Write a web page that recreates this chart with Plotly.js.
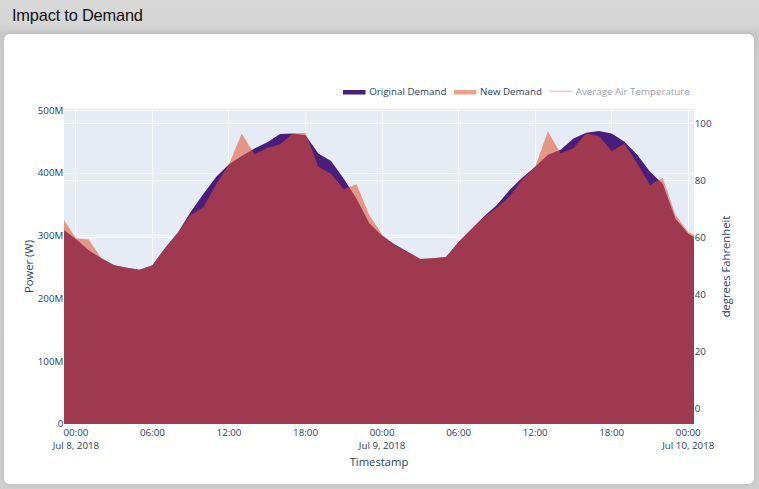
<!DOCTYPE html>
<html>
<head>
<meta charset="utf-8">
<script src="https://cdn.plot.ly/plotly-3.0.1.min.js"></script>
<style>
  html, body { margin: 0; padding: 0; }
  body { width: 759px; height: 489px; overflow: hidden; position: relative;
         background: linear-gradient(to bottom, #d8d8d8 0px, #d6d6d6 24px, #cacaca 34px, #d0d0d0 60px, #cfcfcf 489px); }
  #title { position: absolute; left: 12px; top: 6px; font-family: "Liberation Sans", Arial, Helvetica, sans-serif;
           font-size: 16.4px; color: #111; letter-spacing: -0.2px; }
  #card { position: absolute; left: 4px; top: 34px; width: 750px; height: 450px; background: #fff;
          border-radius: 6px; overflow: hidden; box-shadow: 0 0 5px rgba(0,0,0,0.12); }
  #chart { width: 1000px; height: 600px; transform: scale(0.75); transform-origin: 0 0; }
</style>
</head>
<body>
<div id="title">Impact to Demand</div>
<div id="card"><div id="chart"></div></div>
<script>
// Hourly timestamps, Jul 7 23:00 -> Jul 10 01:00
const timestamps = [
  '2018-07-07 23:00',
  '2018-07-08 00:00','2018-07-08 01:00','2018-07-08 02:00','2018-07-08 03:00','2018-07-08 04:00','2018-07-08 05:00',
  '2018-07-08 06:00','2018-07-08 07:00','2018-07-08 08:00','2018-07-08 09:00','2018-07-08 10:00','2018-07-08 11:00',
  '2018-07-08 12:00','2018-07-08 13:00','2018-07-08 14:00','2018-07-08 15:00','2018-07-08 16:00','2018-07-08 17:00',
  '2018-07-08 18:00','2018-07-08 19:00','2018-07-08 20:00','2018-07-08 21:00','2018-07-08 22:00','2018-07-08 23:00',
  '2018-07-09 00:00','2018-07-09 01:00','2018-07-09 02:00','2018-07-09 03:00','2018-07-09 04:00','2018-07-09 05:00',
  '2018-07-09 06:00','2018-07-09 07:00','2018-07-09 08:00','2018-07-09 09:00','2018-07-09 10:00','2018-07-09 11:00',
  '2018-07-09 12:00','2018-07-09 13:00','2018-07-09 14:00','2018-07-09 15:00','2018-07-09 16:00','2018-07-09 17:00',
  '2018-07-09 18:00','2018-07-09 19:00','2018-07-09 20:00','2018-07-09 21:00','2018-07-09 22:00','2018-07-09 23:00',
  '2018-07-10 00:00','2018-07-10 01:00'
];
// Power in MW (converted to W below)
const originalDemandMW = [
  310,
  295, 277, 264, 253, 249, 246,
  253, 281, 305, 338, 367, 394,
  414, 427, 439, 449, 462, 463,
  460, 431, 419, 391, 359, 320,
  300, 286, 274, 263, 264, 266,
  290, 311, 331, 349, 373, 393,
  410, 429, 437, 455, 464, 467,
  463, 450, 429, 402, 383, 327,
  303, 292
];
const newDemandMW = [
  327,
  296, 294, 264, 253, 249, 246,
  253, 281, 305, 333, 346, 382,
  414, 463, 430, 440, 446, 463,
  464, 410, 399, 374, 382, 333,
  302, 285, 274, 263, 264, 266,
  290, 311, 330, 345, 363, 390,
  410, 466, 431, 440, 463, 459,
  435, 447, 415, 381, 392, 333,
  306, 295
];
// Temperature series (hidden / legend only)
const tempTimestamps = [
  '2018-07-08 00:00','2018-07-08 03:00','2018-07-08 06:00','2018-07-08 09:00','2018-07-08 12:00','2018-07-08 15:00',
  '2018-07-08 18:00','2018-07-08 21:00','2018-07-09 00:00','2018-07-09 03:00','2018-07-09 06:00','2018-07-09 09:00',
  '2018-07-09 12:00','2018-07-09 15:00','2018-07-09 18:00','2018-07-09 21:00','2018-07-10 00:00'
];
const avgAirTempF = [66, 63, 61, 70, 82, 88, 85, 75, 68, 64, 62, 71, 83, 90, 87, 76, 69];

const toW = a => a.map(v => v * 1e6);

const traces = [
  { x: timestamps, y: toW(originalDemandMW), name: 'Original Demand', type: 'scatter', mode: 'lines',
    fill: 'tozeroy', fillcolor: 'rgb(74,29,122)', line: { width: 0, color: 'rgb(74,29,122)' } },
  { x: timestamps, y: toW(newDemandMW), name: 'New Demand', type: 'scatter', mode: 'lines',
    fill: 'tozeroy', fillcolor: 'rgba(227,80,44,0.55)', line: { width: 0, color: 'rgb(227,80,44)' } },
  { x: tempTimestamps, y: avgAirTempF, name: 'Average Air Temperature', type: 'scatter', mode: 'lines',
    yaxis: 'y2', visible: 'legendonly', line: { color: 'rgb(245,130,150)', width: 2 } }
];

const layout = {
  width: 1000, height: 600,
  margin: { l: 80, r: 80, t: 100, b: 80 },
  paper_bgcolor: '#fff',
  plot_bgcolor: '#E5ECF6',
  font: { family: '"Open Sans", verdana, arial, sans-serif', size: 13, color: '#2a3f5f' },
  showlegend: true,
  legend: { orientation: 'h', x: 1, xanchor: 'right', y: 1.02, yanchor: 'bottom', bgcolor: 'rgba(0,0,0,0)',
            font: { size: 13 } },
  xaxis: { type: 'date', title: { text: 'Timestamp', font: { size: 15 } }, range: ['2018-07-07 23:04', '2018-07-10 00:27'],
           tick0: '2018-07-08 00:00', dtick: 6 * 3600000, gridcolor: '#fff', zeroline: false, linecolor: '#fff' },
  yaxis: { title: { text: 'Power (W)', font: { size: 15 } }, range: [0, 502e6], dtick: 100e6, gridcolor: '#fff', zeroline: false },
  yaxis2: { title: { text: 'degrees Fahrenheit', font: { size: 15 } }, overlaying: 'y', side: 'right', range: [-5.26, 105],
            dtick: 20, gridcolor: '#fff', zeroline: false }
};

Plotly.newPlot('chart', traces, layout, { displayModeBar: false, staticPlot: true });
</script>
</body>
</html>
